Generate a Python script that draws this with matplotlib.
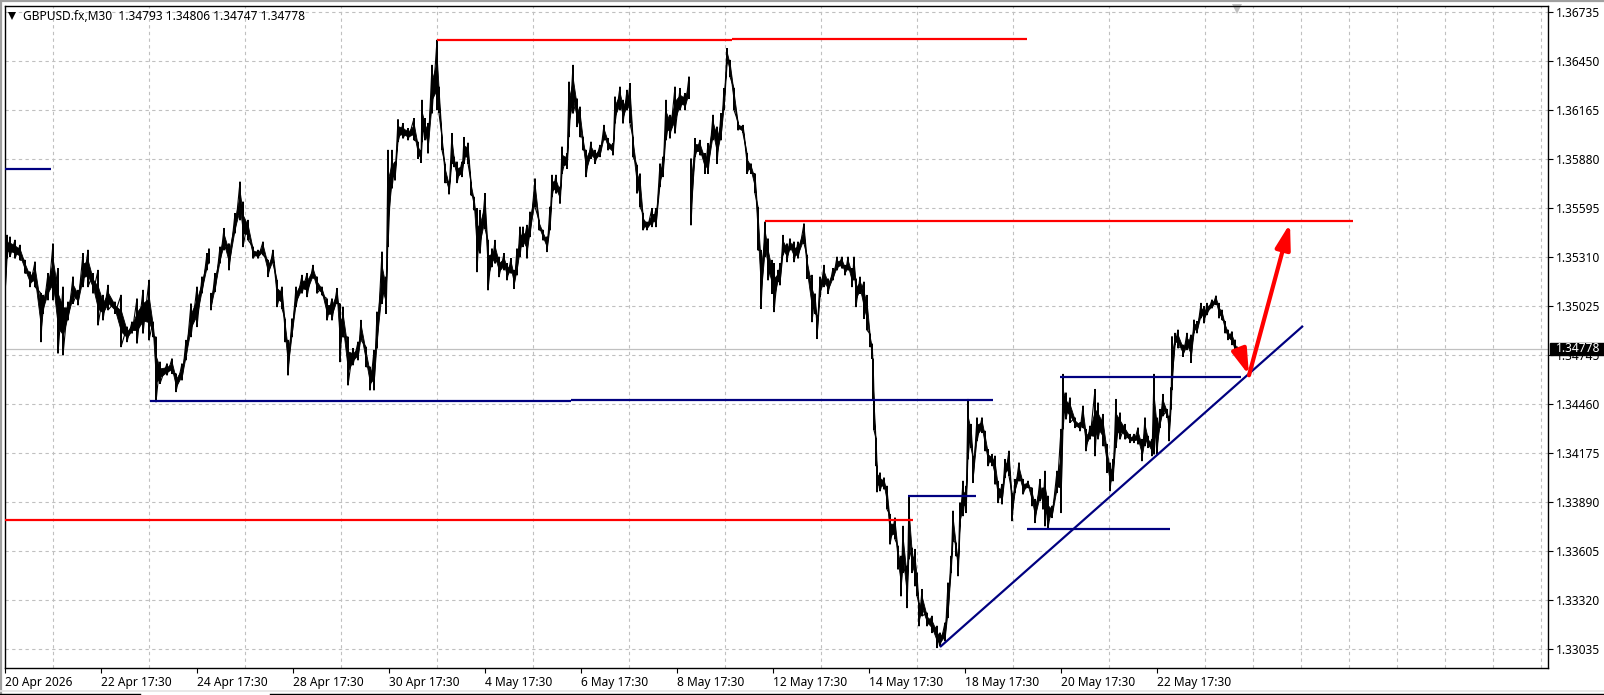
"""GBPUSD M30 terminal screenshot: high/low bars with hand drawn levels and arrows."""

import numpy as np
import matplotlib
matplotlib.use('Agg')
import matplotlib.pyplot as plt
from matplotlib.lines import Line2D

plt.rcParams['font.family'] = ['Noto Sans', 'DejaVu Sans']

# ── data ──────────────────────────────────────────────────────────────────────

title_text = 'GBPUSD.fx,M30  1.34793 1.34806 1.34747 1.34778'
last_price = 1.34778

y_ticks = [1.36735, 1.36450, 1.36165, 1.35880, 1.35595, 1.35310, 1.35025,
           1.34745, 1.34460, 1.34175, 1.33890, 1.33605, 1.33320, 1.33035]
x_labels = ['20 Apr 2026', '22 Apr 17:30', '24 Apr 17:30', '28 Apr 17:30',
            '30 Apr 17:30', '4 May 17:30', '6 May 17:30', '8 May 17:30',
            '12 May 17:30', '14 May 17:30', '18 May 17:30', '20 May 17:30',
            '22 May 17:30']

bars_a = [0, 2, 5, 10, 15, 20, 25, 30, 36, 38, 43, 48, 53, 58, 63, 68, 73, 78, 83, 88,
          93, 98, 103, 110, 116, 122, 127, 132, 138, 144, 148, 151, 155, 162, 167, 171,
          177, 181, 186, 192, 197, 202, 204, 206, 210, 215, 219, 224, 230, 235, 238, 243,
          248, 253, 258, 263, 268, 272, 277, 280, 283, 287, 291, 297, 302, 308, 312, 317,
          322, 327, 332, 335, 338, 343, 348, 353, 356, 361, 365, 369, 372, 377, 381]
highs_a = [1.35304, 1.35440, 1.35430, 1.35411, 1.35382, 1.35294, 1.35227, 1.35285, 1.35101, 1.35091,
           1.35217, 1.35391, 1.35246, 1.35139, 1.35052, 1.35198, 1.35120, 1.35333, 1.35353, 1.35217,
           1.35236, 1.35091, 1.35149, 1.35052, 1.35091, 1.34907, 1.34936, 1.35071, 1.35120, 1.35178,
           1.34936, 1.34848, 1.34703, 1.34693, 1.34722, 1.34635, 1.34693, 1.34829, 1.35042, 1.35139,
           1.35198, 1.35333, 1.35362, 1.35101, 1.35217, 1.35372, 1.35479, 1.35391, 1.35566, 1.35750,
           1.35634, 1.35527, 1.35372, 1.35353, 1.35401, 1.35294, 1.35353, 1.35178, 1.35139, 1.34955,
           1.34829, 1.34955, 1.35139, 1.35207, 1.35217, 1.35265, 1.35198, 1.35139, 1.35071, 1.35071,
           1.35130, 1.35042, 1.35023, 1.34848, 1.34781, 1.34819, 1.34945, 1.34790, 1.34674, 1.34771,
           1.34994, 1.35343, 1.35198]
lows_a = [1.35062, 1.35304, 1.35314, 1.35304, 1.35294, 1.35217, 1.35139, 1.35139, 1.34819, 1.34984,
          1.35062, 1.35062, 1.34752, 1.34742, 1.34945, 1.35042, 1.35033, 1.35139, 1.35139, 1.35101,
          1.34916, 1.34945, 1.35004, 1.34984, 1.34790, 1.34819, 1.34868, 1.34810, 1.34868, 1.34829,
          1.34848, 1.34470, 1.34577, 1.34625, 1.34635, 1.34529, 1.34596, 1.34713, 1.34848, 1.34907,
          1.35101, 1.35236, 1.35275, 1.35004, 1.35110, 1.35275, 1.35353, 1.35236, 1.35450, 1.35527,
          1.35372, 1.35411, 1.35304, 1.35304, 1.35324, 1.35198, 1.35275, 1.35023, 1.35013, 1.34819,
          1.34625, 1.34848, 1.35023, 1.35101, 1.35081, 1.35188, 1.35101, 1.35091, 1.34945, 1.34945,
          1.35042, 1.34703, 1.34848, 1.34567, 1.34684, 1.34713, 1.34829, 1.34674, 1.34538, 1.34538,
          1.34781, 1.35042, 1.34984]

bars_b = [383, 387, 390, 393, 398, 403, 409, 413, 416, 417, 420, 423, 427, 432, 434, 437, 440, 444,
          447, 449, 452, 457, 459, 463, 466, 469, 472, 475, 480, 483, 487, 490, 494, 499, 502, 506,
          509, 512, 515, 518, 522, 525, 530, 534, 538, 542, 545, 547, 551, 555, 557, 562, 564, 568,
          572, 575, 578, 581, 586, 590, 595, 599, 603, 608, 610, 615, 618, 622, 625, 628, 632, 635,
          638, 642, 647, 651, 655, 658, 661, 665, 670, 675, 680, 684, 686, 690, 695, 700, 703, 708,
          712, 716, 719, 722, 725, 729, 733, 738, 742, 746, 750, 753, 756, 760, 763, 767, 769, 773]
highs_b = [1.35934, 1.35934, 1.35866, 1.36112, 1.36089, 1.36060, 1.36118, 1.35982, 1.35934, 1.36225,
           1.36118, 1.36089, 1.36428, 1.36574, 1.36302, 1.36011, 1.35856, 1.35750, 1.36031, 1.35895,
           1.35866, 1.35866, 1.36008, 1.35976, 1.35750, 1.35662, 1.35595, 1.35585, 1.35682, 1.35410,
           1.35362, 1.35410, 1.35313, 1.35333, 1.35275, 1.35304, 1.35236, 1.35362, 1.35488, 1.35488,
           1.35498, 1.35575, 1.35769, 1.35527, 1.35469, 1.35430, 1.35604, 1.35789, 1.35789, 1.35721,
           1.35953, 1.35915, 1.36331, 1.36428, 1.36234, 1.36186, 1.36011, 1.35934, 1.35982, 1.35934,
           1.35963, 1.36079, 1.36002, 1.35973, 1.36244, 1.36302, 1.36225, 1.36283, 1.36322, 1.36011,
           1.35847, 1.35798, 1.35566, 1.35517, 1.35595, 1.35595, 1.35856, 1.35895, 1.36225, 1.36138,
           1.36302, 1.36293, 1.36264, 1.36361, 1.35885, 1.36002, 1.35992, 1.35915, 1.35973, 1.36138,
           1.36070, 1.36147, 1.36293, 1.36525, 1.36457, 1.36293, 1.36099, 1.36079, 1.35915, 1.35856,
           1.35798, 1.35604, 1.35352, 1.35517, 1.35420, 1.35294, 1.35275, 1.35236]
lows_b = [1.35372, 1.35711, 1.35759, 1.35982, 1.36002, 1.35992, 1.35992, 1.35885, 1.35862, 1.35982,
          1.35992, 1.35915, 1.36147, 1.36167, 1.36147, 1.35934, 1.35744, 1.35678, 1.35856, 1.35837,
          1.35744, 1.35779, 1.35856, 1.35856, 1.35672, 1.35585, 1.35226, 1.35333, 1.35478, 1.35120,
          1.35255, 1.35275, 1.35197, 1.35236, 1.35178, 1.35217, 1.35129, 1.35207, 1.35313, 1.35372,
          1.35304, 1.35430, 1.35604, 1.35469, 1.35410, 1.35343, 1.35469, 1.35662, 1.35682, 1.35624,
          1.35798, 1.35827, 1.36011, 1.36147, 1.36070, 1.36011, 1.35934, 1.35779, 1.35885, 1.35856,
          1.35895, 1.35992, 1.35934, 1.35905, 1.36089, 1.36167, 1.36089, 1.36167, 1.36089, 1.35895,
          1.35682, 1.35604, 1.35469, 1.35469, 1.35488, 1.35488, 1.35721, 1.35779, 1.35992, 1.36002,
          1.36031, 1.36167, 1.36167, 1.36234, 1.35498, 1.35895, 1.35905, 1.35798, 1.35798, 1.35992,
          1.35856, 1.35992, 1.36167, 1.36438, 1.36361, 1.36167, 1.36050, 1.36031, 1.35798, 1.35798,
          1.35682, 1.35352, 1.35013, 1.35313, 1.35178, 1.35100, 1.34994, 1.35168]

bars_c = [775, 778, 782, 785, 789, 793, 799, 802, 807, 810, 812, 815, 819, 823, 828, 832, 837, 840,
          843, 847, 849, 851, 855, 859, 862, 865, 867, 868, 869]
highs_c = [1.35275, 1.35439, 1.35391, 1.35420, 1.35401, 1.35401, 1.35507, 1.35323, 1.35207, 1.35100,
           1.34974, 1.35197, 1.35265, 1.35187, 1.35246, 1.35313, 1.35313, 1.35265, 1.35313, 1.35246,
           1.35313, 1.35187, 1.35197, 1.35168, 1.35090, 1.34867, 1.34809, 1.34722, 1.34480]
lows_c = [1.35149, 1.35323, 1.35284, 1.35352, 1.35284, 1.35304, 1.35391, 1.35187, 1.34935, 1.34984,
          1.34838, 1.35081, 1.35139, 1.35100, 1.35178, 1.35236, 1.35246, 1.35207, 1.35236, 1.35139,
          1.35178, 1.35023, 1.35100, 1.34955, 1.34887, 1.34790, 1.34722, 1.34480, 1.34305]

bars_d = [871, 872, 875, 879, 882, 885, 890, 893, 896, 898, 902, 904, 907, 910, 912, 914, 917, 922,
          927, 932, 935, 940, 943, 946, 948, 951, 953, 955, 958, 961, 963, 966, 968, 972, 977, 980,
          983, 987, 990, 993, 997, 1000, 1004, 1007, 1010, 1014, 1018, 1023, 1027, 1030, 1035, 1038,
          1040, 1043, 1047, 1052, 1056, 1058, 1061, 1065, 1070, 1075, 1078, 1081, 1085, 1090, 1093,
          1098, 1102, 1105, 1108, 1111, 1115, 1120, 1125, 1129, 1133, 1137, 1140, 1143, 1147, 1149,
          1152, 1155, 1158, 1162, 1164, 1166]
highs_d = [1.34262, 1.34098, 1.34059, 1.34030, 1.33981, 1.33816, 1.33797, 1.33632, 1.33574, 1.33748,
           1.33516, 1.33923, 1.33622, 1.33613, 1.33477, 1.33303, 1.33380, 1.33244, 1.33225, 1.33167,
           1.33128, 1.33186, 1.33419, 1.33574, 1.33836, 1.33652, 1.33574, 1.33884, 1.34010, 1.33981,
           1.34485, 1.34340, 1.34156, 1.34379, 1.34379, 1.34301, 1.34194, 1.34165, 1.34156, 1.34010,
           1.33991, 1.34136, 1.34185, 1.33942, 1.34020, 1.34117, 1.34020, 1.34010, 1.33971, 1.33904,
           1.34020, 1.33971, 1.34068, 1.33923, 1.33865, 1.34068, 1.34311, 1.34631, 1.34524, 1.34495,
           1.34379, 1.34350, 1.34447, 1.34311, 1.34330, 1.34543, 1.34466, 1.34398, 1.34224, 1.34117,
           1.34136, 1.34485, 1.34408, 1.34340, 1.34282, 1.34282, 1.34320, 1.34253, 1.34379, 1.34272,
           1.34253, 1.34631, 1.34379, 1.34427, 1.34514, 1.34427, 1.34388, 1.34553]
lows_d = [1.34098, 1.33946, 1.33952, 1.33962, 1.33845, 1.33642, 1.33671, 1.33496, 1.33341, 1.33477,
          1.33273, 1.33555, 1.33477, 1.33399, 1.33341, 1.33167, 1.33225, 1.33167, 1.33128, 1.33041,
          1.33050, 1.33080, 1.33215, 1.33477, 1.33661, 1.33574, 1.33458, 1.33748, 1.33807, 1.33826,
          1.34136, 1.34204, 1.34001, 1.34243, 1.34291, 1.34185, 1.34098, 1.34098, 1.33991, 1.33884,
          1.33875, 1.34030, 1.34039, 1.33778, 1.33942, 1.34010, 1.33933, 1.33971, 1.33865, 1.33768,
          1.33894, 1.33845, 1.33748, 1.33739, 1.33797, 1.33942, 1.33826, 1.34311, 1.34369, 1.34350,
          1.34320, 1.34301, 1.34320, 1.34185, 1.34253, 1.34156, 1.34253, 1.34214, 1.34059, 1.33952,
          1.34010, 1.34204, 1.34253, 1.34253, 1.34233, 1.34233, 1.34224, 1.34127, 1.34214, 1.34204,
          1.34156, 1.34165, 1.34165, 1.34320, 1.34388, 1.34379, 1.34243, 1.34427]

bars_e = [1167, 1170, 1173, 1178, 1182, 1186, 1189, 1192, 1196, 1199, 1202, 1207, 1211, 1214, 1217,
          1220, 1223, 1227, 1230, 1232]
highs_e = [1.34850, 1.34870, 1.34889, 1.34802, 1.34870, 1.34860, 1.34947, 1.34938, 1.35044, 1.35025,
           1.35044, 1.35064, 1.35087, 1.35044, 1.35005, 1.34938, 1.34889, 1.34879, 1.34831, 1.34792]
lows_e = [1.34540, 1.34802, 1.34783, 1.34734, 1.34773, 1.34699, 1.34870, 1.34870, 1.34957, 1.34928,
          1.34976, 1.35015, 1.35035, 1.34957, 1.34947, 1.34870, 1.34831, 1.34802, 1.34744, 1.34730]

# weekend style breaks where the price jumps without a joining stroke
gap_bars = [206, 686]

# drawn objects: (bar from, bar to, price from, price to)
red_levels = [(432, 727, 1.36576, 1.36576), (727, 1022, 1.36581, 1.36581),
              (760, 1348, 1.35521, 1.35521), (0, 908, 1.33782, 1.33782)]
blue_levels = [(0, 46, 1.35825, 1.35825), (145, 566, 1.34476, 1.34476),
               (566, 988, 1.34480, 1.34480), (903, 971, 1.33923, 1.33923),
               (1022, 1165, 1.33730, 1.33730), (1055, 1236, 1.34616, 1.34616),
               (935, 1298, 1.33045, 1.34912)]
arrow_tails = [(1235, 1.34761), (1244, 1.34625)]
arrow_tips = [(1244, 1.34625), (1285, 1.35508)]

# ── figure ────────────────────────────────────────────────────────────────────

W, H = 1604, 695
fig = plt.figure(figsize=(W / 100, H / 100), dpi=100, facecolor='white')
ax = fig.add_axes([5 / W, 1 - 668 / H, 1543 / W, 662 / H])
ax.set_xlim(0, 1543)
ax.set_ylim(1.32923, 1.36772)

bars = np.array(bars_a + bars_b + bars_c + bars_d + bars_e)
highs = np.array(highs_a + highs_b + highs_c + highs_d + highs_e)
lows = np.array(lows_a + lows_b + lows_c + lows_d + lows_e)

# ── grid + axes ───────────────────────────────────────────────────────────────

grid_color = '#c0c0c0'
ax.set_xticks(np.arange(48, 1543, 48), minor=True)
ax.tick_params(axis='x', which='minor', length=0)
ax.grid(True, axis='x', which='minor', color=grid_color, ls=(0, (3, 3)), lw=0.8)

ax.yaxis.tick_right()
ax.set_yticks(y_ticks)
ax.set_yticklabels(['%.5f' % v for v in y_ticks])
ax.grid(True, axis='y', which='major', color=grid_color, ls=(0, (3, 3)), lw=0.8)
ax.set_xticks(np.arange(len(x_labels)) * 96)
ax.set_xticklabels(x_labels, ha='left')
ax.tick_params(axis='both', which='major', length=3.5, width=0.8, labelsize=8.6,
               color='black', labelcolor='#000000', pad=2.5)
ax.set_axisbelow(True)
for s in ax.spines.values():
    s.set_linewidth(1.0)

ax.axhline(last_price, color=grid_color, lw=0.9, zorder=1)

# ── price ─────────────────────────────────────────────────────────────────────

ax.vlines(bars, lows, highs, color='black', lw=1.2, zorder=3, antialiased=False)

# solid core plus slanted strokes between the sampled high/low pairs, broken at the gaps
for chunk in np.split(np.arange(len(bars)), np.searchsorted(bars, gap_bars)):
    mid = (highs[chunk] + lows[chunk]) / 2
    half = (highs[chunk] - lows[chunk]) * 0.2
    ax.fill_between(bars[chunk], mid - half, mid + half, color='black', lw=0.6, zorder=3)
    xs = np.repeat(bars[chunk], 2)
    ys = np.column_stack([highs[chunk], lows[chunk]]).ravel()
    ax.plot(xs, ys, color='black', lw=0.8, zorder=3)

# ── levels + arrows ───────────────────────────────────────────────────────────

for x0, x1, y0, y1 in red_levels:
    ax.plot([x0, x1], [y0, y1], color='#ff0000', lw=1.6, zorder=4, solid_capstyle='butt')
for x0, x1, y0, y1 in blue_levels:
    ax.plot([x0, x1], [y0, y1], color='#000080', lw=1.6, zorder=4, solid_capstyle='butt')

for tail, tip in zip(arrow_tails, arrow_tips):
    ax.annotate('', xy=tip, xytext=tail, zorder=5,
                arrowprops=dict(arrowstyle='-|>,head_length=1.5,head_width=0.45',
                                color='#ff0000', lw=3.0, shrinkA=0, shrinkB=0,
                                mutation_scale=10))

# ── last price tag + header ───────────────────────────────────────────────────

ytrans = ax.get_yaxis_transform()
ax.add_patch(plt.Rectangle((1.0013, last_price - 0.00036), 0.035, 0.00072, transform=ytrans,
                           color='black', clip_on=False, zorder=6))
ax.text(1.0052, last_price, '%.5f' % last_price, transform=ytrans, color='white', fontsize=8.6,
        va='center', ha='left', clip_on=False, zorder=7)

fig.text(23 / W, 1 - 16 / H, title_text, fontsize=8.6, color='black', va='center', ha='left')
ax.plot([12 / W], [1 - 16 / H], marker='v', ms=6, color='black', mew=0,
        transform=fig.transFigure, clip_on=False, zorder=7)
ax.plot([1237 / W], [1 - 9 / H], marker='v', ms=7, color='#c0c0c0', mew=0,
        transform=fig.transFigure, clip_on=False, zorder=2)

# window chrome around the chart
fig.add_artist(Line2D([0, 1], [1 - 1 / H, 1 - 1 / H], color='#a0a0a0', lw=1.6))
fig.add_artist(Line2D([1 / W, 1 / W], [0, 1], color='#a0a0a0', lw=1.6))
fig.add_artist(Line2D([0, 1], [1 - 691 / H, 1 - 691 / H], color='#e4e4e4', lw=1.2))
fig.add_artist(Line2D([0, 140 / W], [1 - 694 / H, 1 - 694 / H], color='black', lw=1.0))
fig.add_artist(Line2D([270 / W, 1], [1 - 694 / H, 1 - 694 / H], color='black', lw=1.0))

fig.savefig('out.png', dpi=100)
